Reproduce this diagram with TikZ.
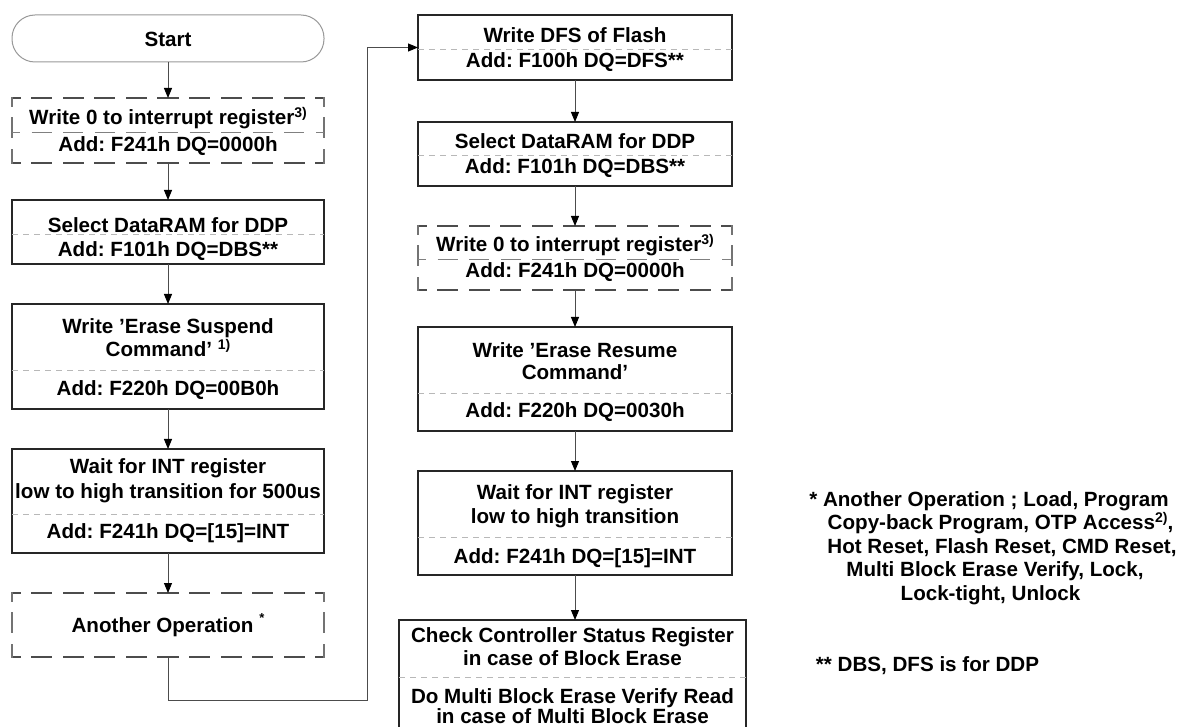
\documentclass[tikz,border=0pt]{standalone}
\usepackage{fontspec}
\setmainfont{Liberation Sans}
\usetikzlibrary{arrows.meta}
\frenchspacing
\newcommand\sps[1]{\raisebox{7.5pt}{\fontsize{14}{14}\selectfont #1}}
\newcommand\dsides[1]{%
  \draw[dside] (#1.north west) -- (#1.north east);
  \draw[dside] (#1.south west) -- (#1.south east);
  \draw[dside, draw=black!55] (#1.north west) -- (#1.south west);
  \draw[dside, draw=black!55] (#1.north east) -- (#1.south east);}
\tikzset{
  sbox/.style={draw=black!85, line width=1.1pt, rectangle, minimum width=312, inner sep=0pt, outer sep=0pt},
  dbox/.style={draw=none, rectangle, minimum width=312, inner sep=0pt, outer sep=0pt},
  dside/.style={draw=black!70, line width=1.1pt, line cap=rect, dash pattern=on 20pt off 11.6pt, dash phase=12pt},
  divl/.style={draw=black!28, line width=0.8pt, dash pattern=on 6pt off 5pt},
  ddivl/.style={draw=black!50, line width=0.8pt, dash pattern=on 20pt off 11.6pt, dash phase=12pt},
  txt/.style={anchor=base, inner sep=0pt, font=\fontsize{20.6}{23.5}\selectfont\bfseries},
  arr/.style={draw=black!70, line width=1pt, -{Triangle[width=8pt,length=10pt,color=black]}},
}
\begin{document}
\begin{tikzpicture}[x=1pt,y=-1pt]
\fill[white] (0,0) rectangle (1179,727);
\useasboundingbox (0,0) rectangle (1179,727);
\clip (0,0) rectangle (1179,727);

% ---------- left column ----------
\node[draw=black!40, line width=1pt, rectangle, rounded corners=23pt, minimum width=312, minimum height=47, inner sep=0pt, outer sep=0pt] (start) at (168,38.5) {};
\node[txt] (tstart) at (168,46.7) {Start};

\node[dbox, minimum height=65] (b1) at (168,130.5) {};
\dsides{b1}
\draw[ddivl] (b1.west |- 0,132.5) -- (b1.east |- 0,132.5);
\node[txt] (b1a) at (168,125) {Write 0 to interrupt register\sps{3)}};
\node[txt] (b1b) at (168,151.7) {Add: F241h DQ=0000h};

\node[sbox, minimum height=64] (b2) at (168,232) {};
\draw[divl] (b2.west |- 0,234.5) -- (b2.east |- 0,234.5);
\node[txt] (b2a) at (168,233) {Select DataRAM for DDP};
\node[txt] (b2b) at (168,257) {Add: F101h DQ=DBS**};

\node[sbox, minimum height=105] (b3) at (168,356.5) {};
\draw[divl] (b3.west |- 0,370) -- (b3.east |- 0,370);
\node[txt] (b3a) at (168,334) {Write ’Erase Suspend};
\node[txt] (b3b) at (168,357) {Command’ \sps{1)}};
\node[txt] (b3c) at (168,396) {Add: F220h DQ=00B0h};

\node[sbox, minimum height=104] (b4) at (168,501) {};
\draw[divl] (b4.west |- 0,514) -- (b4.east |- 0,514);
\node[txt] (b4a) at (168,474) {Wait for INT register};
\node[txt] (b4b) at (168,498) {low to high transition for 500us};
\node[txt] (b4c) at (168,538) {Add: F241h DQ=[15]=INT};

\node[dbox, minimum height=64] (b5) at (168,625) {};
\dsides{b5}
\node[txt] (b5a) at (168,632) {Another Operation \raisebox{10pt}{\fontsize{13}{13}\selectfont *}};

% ---------- right column ----------
\node[sbox, minimum width=314, minimum height=65] (r1) at (575,47.5) {};
\draw[divl] (r1.west |- 0,49) -- (r1.east |- 0,49);
\node[txt] (r1a) at (575,43) {Write DFS of Flash};
\node[txt] (r1b) at (575,68) {Add: F100h DQ=DFS**};

\node[sbox, minimum width=314, minimum height=64] (r2) at (575,154) {};
\draw[divl] (r2.west |- 0,155) -- (r2.east |- 0,155);
\node[txt] (r2a) at (575,149) {Select DataRAM for DDP};
\node[txt] (r2b) at (575,174) {Add: F101h DQ=DBS**};

\node[dbox, minimum width=314, minimum height=64] (r3) at (575,258) {};
\dsides{r3}
\draw[ddivl] (r3.west |- 0,259) -- (r3.east |- 0,259);
\node[txt] (r3a) at (575,252) {Write 0 to interrupt register\sps{3)}};
\node[txt] (r3b) at (575,278) {Add: F241h DQ=0000h};

\node[sbox, minimum width=314, minimum height=104] (r4) at (575,379) {};
\draw[divl] (r4.west |- 0,393) -- (r4.east |- 0,393);
\node[txt] (r4a) at (575,358) {Write ’Erase Resume};
\node[txt] (r4b) at (575,380) {Command’};
\node[txt] (r4c) at (575,418) {Add: F220h DQ=0030h};

\node[sbox, minimum width=314, minimum height=104] (r5) at (575,523) {};
\draw[divl] (r5.west |- 0,537) -- (r5.east |- 0,537);
\node[txt] (r5a) at (575,499) {Wait for INT register};
\node[txt] (r5b) at (575,523) {low to high transition};
\node[txt] (r5c) at (575,563) {Add: F241h DQ=[15]=INT};

\node[sbox, minimum width=347, minimum height=130] (r6) at (572.5,685) {};
\draw[divl] (r6.west |- 0,677) -- (r6.east |- 0,677);
\node[txt] (r6a) at (572.5,642) {Check Controller Status Register};
\node[txt] (r6b) at (572.5,665) {in case of Block Erase};
\node[txt] (r6c) at (572.5,703) {Do Multi Block Erase Verify Read};
\node[txt] (r6d) at (572.5,723) {in case of Multi Block Erase};

% ---------- notes ----------
\node[txt] (n1) at (989,506) {* Another Operation ; Load, Program};
\node[txt] (n2) at (1000.5,529.5) {Copy-back Program, OTP Access\sps{2)},};
\node[txt] (n3) at (1002,553) {Hot Reset, Flash Reset, CMD Reset,};
\node[txt] (n4) at (995,576.5) {Multi Block Erase Verify, Lock,};
\node[txt] (n5) at (990.5,600) {Lock-tight, Unlock};
\node[txt] (n6) at (927.5,671) {** DBS, DFS is for DDP};

% ---------- connectors ----------
\draw[arr] (start.south) -- (b1.north);
\draw[arr] (b1.south) -- (b2.north);
\draw[arr] (b2.south) -- (b3.north);
\draw[arr] (b3.south) -- (b4.north);
\draw[arr] (b4.south) -- (b5.north);
\coordinate (turn) at (367,700);
\draw[arr] (b5.south) |- (turn) |- (r1.west);
\draw[arr] (r1.south) -- (r2.north);
\draw[arr] (r2.south) -- (r3.north);
\draw[arr] (r3.south) -- (r4.north);
\draw[arr] (r4.south) -- (r5.north);
\draw[arr] (r5.south) -- (r5.south |- r6.north);
\end{tikzpicture}
\end{document}
